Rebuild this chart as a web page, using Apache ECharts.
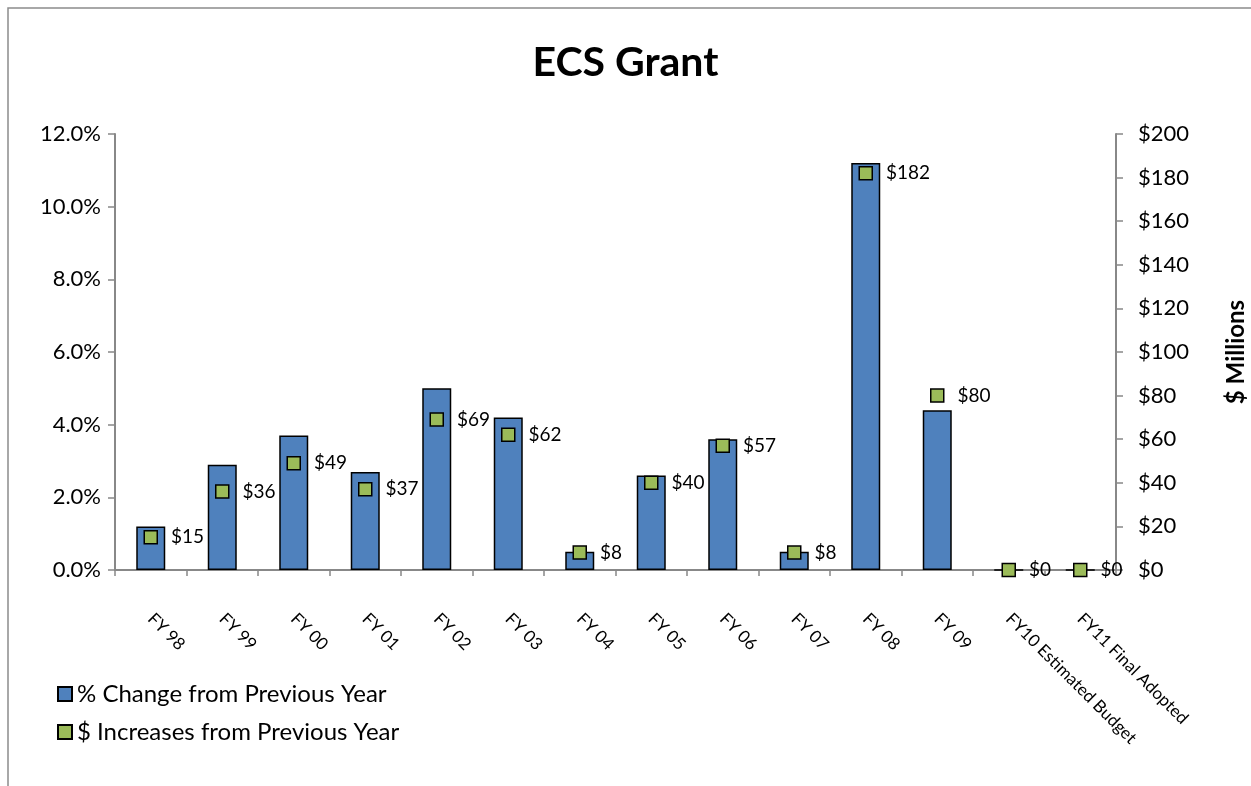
<!DOCTYPE html>
<html>
<head>
<meta charset="utf-8">
<script src="https://cdn.jsdelivr.net/npm/echarts@6/dist/echarts.min.js"></script>
<style>
  html, body { margin: 0; padding: 0; background: #fff; }
  #chart { width: 1251px; height: 786px; }
</style>
</head>
<body>
<div id="chart"></div>
<script>
// data
var categories = ['FY 98', 'FY 99', 'FY 00', 'FY 01', 'FY 02', 'FY 03', 'FY 04', 'FY 05',
  'FY 06', 'FY 07', 'FY 08', 'FY 09', 'FY10 Estimated Budget', 'FY11 Final Adopted']
var pctChange = [1.2, 2.9, 3.7, 2.7, 5.0, 4.2, 0.5, 2.6, 3.6, 0.5, 11.2, 4.4, 0, 0]
var dollarIncrease = [15, 36, 49, 37, 69, 62, 8, 40, 57, 8, 182, 80, 0, 0]

var font = 'Lato, "Open Sans", sans-serif'
var chart = echarts.init(document.getElementById('chart'))

var option = {
  animation: false,
  textStyle: { fontFamily: font },
  title: {
    text: 'ECS Grant',
    left: 'center',
    top: 37,
    textStyle: { fontSize: 41, fontWeight: 'bold', color: '#000', fontFamily: font }
  },
  graphic: [
    {
      type: 'rect',
      shape: { x: 8, y: 8, width: 1270, height: 800 },
      style: { fill: 'none', stroke: '#8c8c8c', lineWidth: 1.5 },
      silent: true
    }
  ],
  legend: {
    orient: 'vertical',
    left: 52,
    top: 677,
    itemGap: 14,
    itemWidth: 14,
    itemHeight: 14,
    textStyle: { fontSize: 24, color: '#000', fontFamily: font },
    data: [
      { name: '% Change from Previous Year', icon: 'rect' },
      { name: '$ Increases from Previous Year', icon: 'rect' }
    ]
  },
  grid: { left: 115, right: 135, top: 134, bottom: 216, containLabel: false, outerBoundsMode: 'none' },
  xAxis: {
    type: 'category',
    data: categories,
    axisLine: { lineStyle: { color: '#888', width: 2 } },
    axisTick: { show: true, length: 6, lineStyle: { color: '#888', width: 1.5 } },
    axisLabel: {
      rotate: -45,
      interval: 0,
      margin: 46,
      fontSize: 17,
      color: '#000',
      fontFamily: font
    }
  },
  yAxis: [
    {
      type: 'value',
      min: 0,
      max: 12,
      interval: 2,
      position: 'left',
      axisLine: { show: true, lineStyle: { color: '#888', width: 2 } },
      axisTick: { show: true, inside: false, length: 7, lineStyle: { color: '#888', width: 1.5 } },
      splitLine: { show: false },
      axisLabel: {
        fontSize: 22,
        color: '#000',
        margin: 14,
        fontFamily: font,
        formatter: function (v) { return v.toFixed(1) + '%' }
      }
    },
    {
      type: 'value',
      min: 0,
      max: 200,
      interval: 20,
      position: 'right',
      name: '$ Millions',
      nameLocation: 'middle',
      nameGap: 108,
      nameRotate: 90,
      nameTextStyle: { fontSize: 24, fontWeight: 'bold', color: '#000', fontFamily: font },
      axisLine: { show: true, lineStyle: { color: '#888', width: 2 } },
      axisTick: { show: true, inside: false, length: 7, lineStyle: { color: '#888', width: 1.5 } },
      splitLine: { show: false },
      axisLabel: {
        fontSize: 22,
        color: '#000',
        margin: 22,
        fontFamily: font,
        formatter: function (v) { return '$' + v }
      }
    }
  ],
  series: [
    {
      name: '% Change from Previous Year',
      type: 'bar',
      yAxisIndex: 0,
      barWidth: 29,
      data: pctChange,
      itemStyle: { color: '#4F81BD', borderColor: '#000', borderWidth: 1.5 }
    },
    {
      name: '$ Increases from Previous Year',
      type: 'scatter',
      yAxisIndex: 1,
      symbol: 'rect',
      symbolSize: 13,
      data: dollarIncrease,
      z: 5,
      itemStyle: { color: '#9BBB59', borderColor: '#000', borderWidth: 1.5, opacity: 1 },
      label: {
        show: true,
        position: 'right',
        distance: 13,
        fontSize: 19,
        color: '#000',
        fontFamily: font,
        formatter: function (p) { return '$' + p.value }
      }
    }
  ]
}

chart.setOption(option)
window.addEventListener('resize', function () { chart.resize() })
</script>
</body>
</html>
